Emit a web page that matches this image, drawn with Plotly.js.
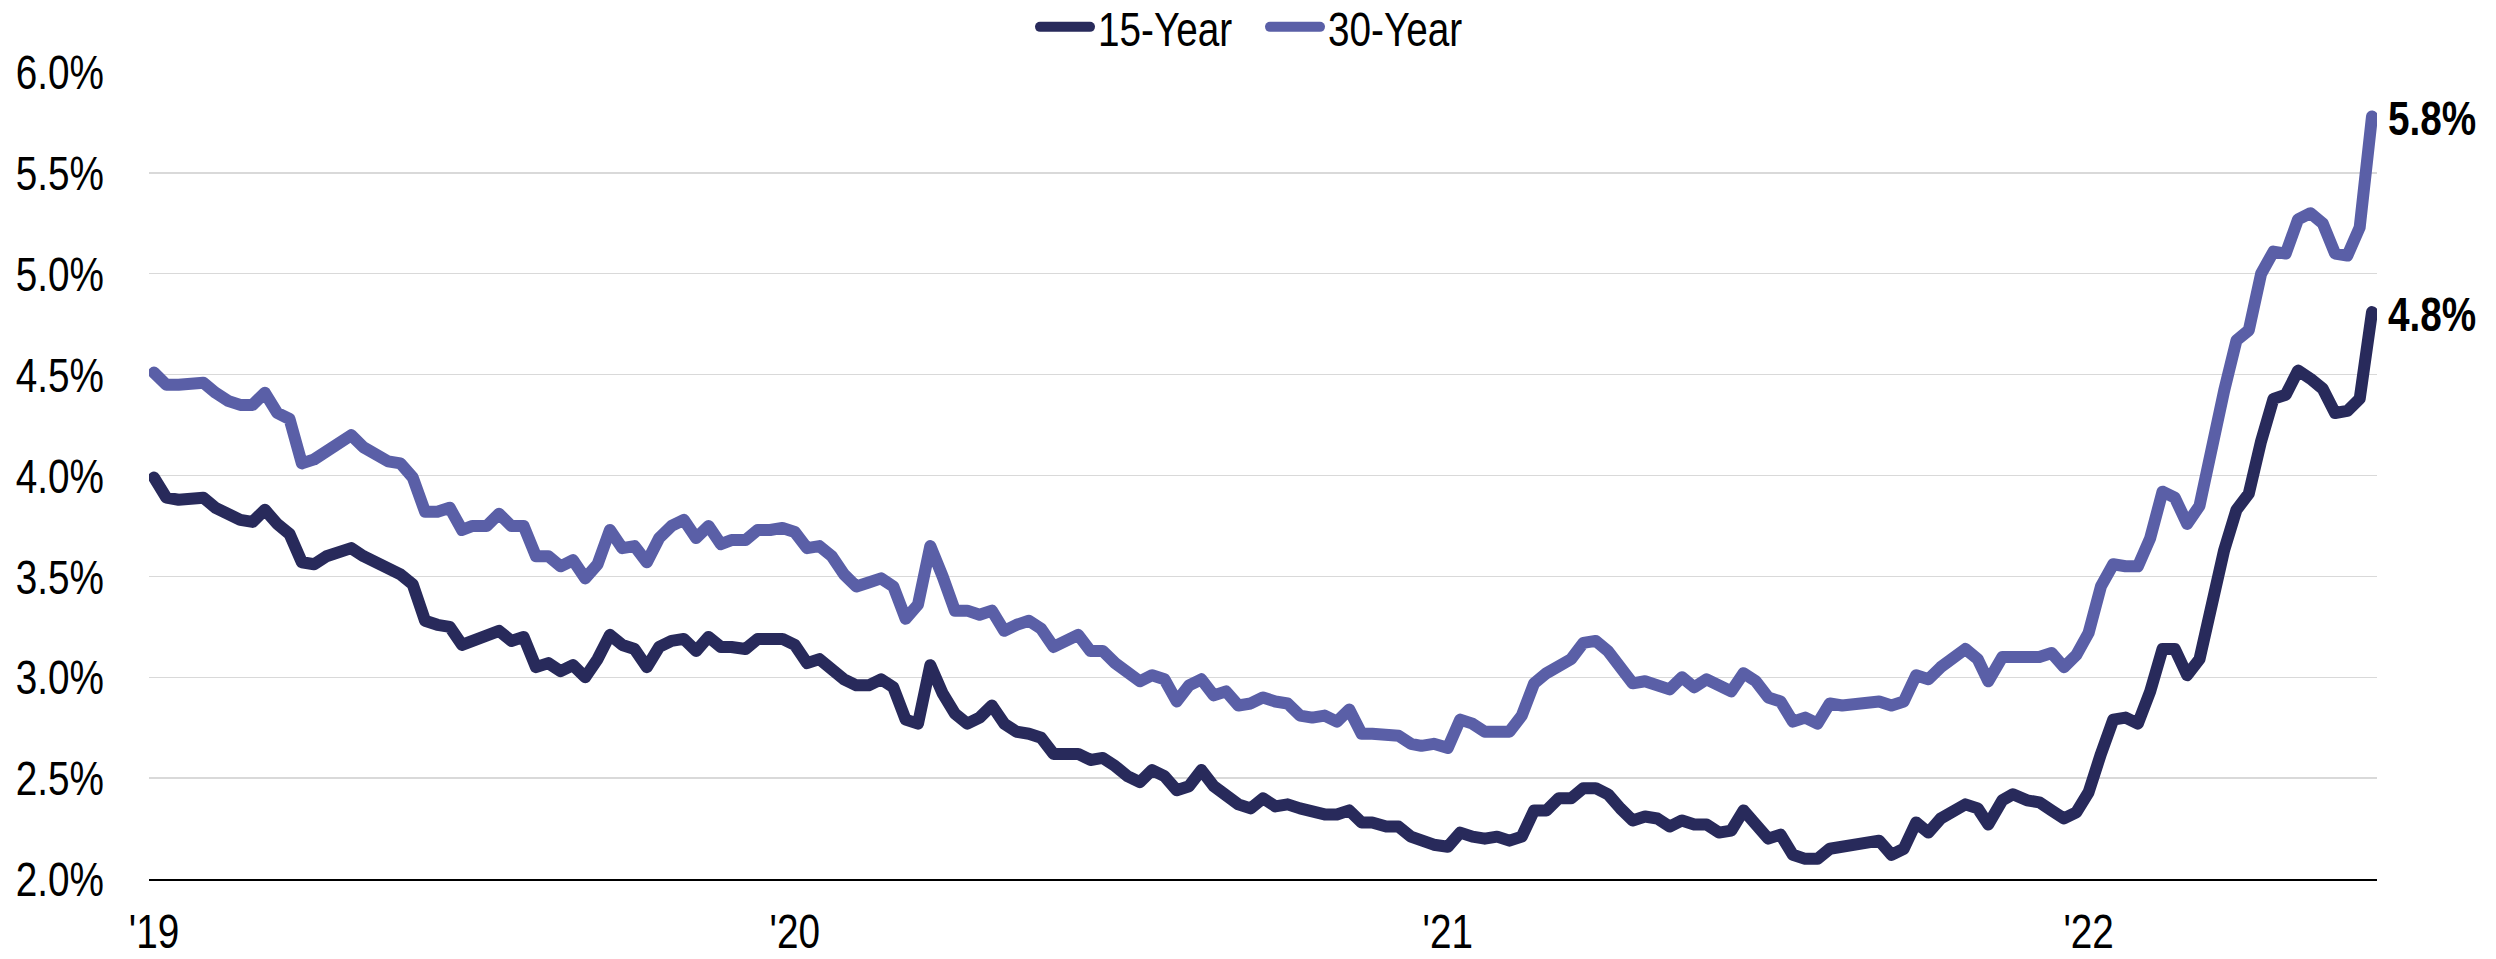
<!DOCTYPE html>
<html>
<head>
<meta charset="utf-8">
<script src="https://cdn.plot.ly/plotly-3.0.1.min.js"></script>
<style>
  html, body { margin: 0; padding: 0; background: #ffffff; }
  #chart { width: 2496px; height: 959px; }
  #chart .scatterlayer .js-line { stroke-linecap: round !important; stroke-linejoin: round !important; }
</style>
</head>
<body>
<div id="chart"></div>
<script>
// Weekly dates (Freddie Mac PMMS survey weeks)
const dates2019 = ["2019-01-03","2019-01-10","2019-01-17","2019-01-24","2019-01-31","2019-02-07","2019-02-14","2019-02-21","2019-02-28","2019-03-07","2019-03-14","2019-03-21","2019-03-28","2019-04-04","2019-04-11","2019-04-18","2019-04-25","2019-05-02","2019-05-09","2019-05-16","2019-05-23","2019-05-30","2019-06-06","2019-06-13","2019-06-20","2019-06-27","2019-07-03","2019-07-11","2019-07-18","2019-07-25","2019-08-01","2019-08-08","2019-08-15","2019-08-22","2019-08-29","2019-09-05","2019-09-12","2019-09-19","2019-09-26","2019-10-03","2019-10-10","2019-10-17","2019-10-24","2019-10-31","2019-11-07","2019-11-14","2019-11-21","2019-11-27","2019-12-05","2019-12-12","2019-12-19","2019-12-26"];
const dates2020 = ["2020-01-02","2020-01-09","2020-01-16","2020-01-23","2020-01-30","2020-02-06","2020-02-13","2020-02-20","2020-02-27","2020-03-05","2020-03-12","2020-03-19","2020-03-26","2020-04-02","2020-04-09","2020-04-16","2020-04-23","2020-04-30","2020-05-07","2020-05-14","2020-05-21","2020-05-28","2020-06-04","2020-06-11","2020-06-18","2020-06-25","2020-07-02","2020-07-09","2020-07-16","2020-07-23","2020-07-30","2020-08-06","2020-08-13","2020-08-20","2020-08-27","2020-09-03","2020-09-10","2020-09-17","2020-09-24","2020-10-01","2020-10-08","2020-10-15","2020-10-22","2020-10-29","2020-11-05","2020-11-12","2020-11-19","2020-11-25","2020-12-03","2020-12-10","2020-12-17","2020-12-23","2020-12-30"];
const dates2021 = ["2021-01-07","2021-01-14","2021-01-21","2021-01-28","2021-02-04","2021-02-11","2021-02-18","2021-02-25","2021-03-04","2021-03-11","2021-03-18","2021-03-25","2021-04-01","2021-04-08","2021-04-15","2021-04-22","2021-04-29","2021-05-06","2021-05-13","2021-05-20","2021-05-27","2021-06-03","2021-06-10","2021-06-17","2021-06-24","2021-07-01","2021-07-08","2021-07-15","2021-07-22","2021-07-29","2021-08-05","2021-08-12","2021-08-19","2021-08-26","2021-09-02","2021-09-09","2021-09-16","2021-09-23","2021-09-30","2021-10-07","2021-10-14","2021-10-21","2021-10-28","2021-11-04","2021-11-10","2021-11-18","2021-11-24","2021-12-02","2021-12-09","2021-12-16","2021-12-23","2021-12-30"];
const dates2022 = ["2022-01-06","2022-01-13","2022-01-20","2022-01-27","2022-02-03","2022-02-10","2022-02-17","2022-02-24","2022-03-03","2022-03-10","2022-03-17","2022-03-24","2022-03-31","2022-04-07","2022-04-14","2022-04-21","2022-04-28","2022-05-05","2022-05-12","2022-05-19","2022-05-26","2022-06-02","2022-06-09","2022-06-16"];

// 30-Year fixed rate (%)
const rate30_2019 = [4.51,4.45,4.45,4.45,4.46,4.41,4.37,4.35,4.35,4.41,4.31,4.28,4.06,4.08,4.12,4.17,4.20,4.14,4.10,4.07,4.06,3.99,3.82,3.82,3.84,3.73,3.75,3.75,3.81,3.75,3.75,3.60,3.60,3.55,3.58,3.49,3.56,3.73,3.64,3.65,3.57,3.69,3.75,3.78,3.69,3.75,3.66,3.68,3.68,3.73,3.73,3.74];
const rate30_2020 = [3.72,3.64,3.65,3.60,3.51,3.45,3.47,3.49,3.45,3.29,3.36,3.65,3.50,3.33,3.33,3.31,3.33,3.23,3.26,3.28,3.24,3.15,3.18,3.21,3.13,3.13,3.07,3.03,2.98,3.01,2.99,2.88,2.96,2.99,2.91,2.93,2.86,2.87,2.90,2.88,2.87,2.81,2.80,2.81,2.78,2.84,2.72,2.72,2.71,2.71,2.67,2.66,2.67];
const rate30_2021 = [2.65,2.79,2.77,2.73,2.73,2.73,2.81,2.97,3.02,3.05,3.09,3.17,3.18,3.13,3.04,2.97,2.98,2.96,2.94,3.00,2.95,2.99,2.96,2.93,3.02,2.98,2.90,2.88,2.78,2.80,2.77,2.87,2.86,2.87,2.87,2.88,2.86,2.88,3.01,2.99,3.05,3.09,3.14,3.09,2.98,3.10,3.10,3.11,3.10,3.12,3.05,3.11];
const rate30_2022 = [3.22,3.45,3.56,3.55,3.55,3.69,3.92,3.89,3.76,3.85,4.16,4.42,4.67,4.72,5.00,5.11,5.10,5.27,5.30,5.25,5.10,5.09,5.23,5.78];

// 15-Year fixed rate (%)
const rate15_2019 = [3.99,3.89,3.88,3.88,3.89,3.84,3.81,3.78,3.77,3.83,3.76,3.71,3.57,3.56,3.60,3.62,3.64,3.60,3.57,3.53,3.51,3.46,3.28,3.26,3.25,3.16,3.18,3.22,3.23,3.18,3.20,3.05,3.07,3.03,3.06,3.00,3.09,3.21,3.16,3.14,3.05,3.15,3.18,3.19,3.13,3.20,3.15,3.15,3.14,3.19,3.19,3.19];
const rate15_2020 = [3.16,3.07,3.09,3.04,2.99,2.96,2.96,2.99,2.95,2.79,2.77,3.06,2.92,2.82,2.77,2.80,2.86,2.77,2.73,2.72,2.70,2.62,2.62,2.62,2.59,2.60,2.56,2.51,2.48,2.54,2.51,2.44,2.46,2.54,2.46,2.42,2.37,2.35,2.40,2.36,2.37,2.35,2.33,2.32,2.32,2.34,2.28,2.28,2.26,2.26,2.21,2.19,2.17];
const rate15_2021 = [2.16,2.23,2.21,2.20,2.21,2.19,2.21,2.34,2.34,2.40,2.40,2.45,2.45,2.42,2.35,2.29,2.31,2.30,2.26,2.29,2.27,2.27,2.23,2.24,2.34,2.26,2.20,2.22,2.12,2.10,2.10,2.15,2.16,2.17,2.18,2.19,2.12,2.15,2.28,2.23,2.30,2.33,2.37,2.35,2.27,2.39,2.42,2.39,2.38,2.34,2.30,2.33];
const rate15_2022 = [2.43,2.62,2.79,2.80,2.77,2.93,3.14,3.14,3.01,3.09,3.39,3.63,3.83,3.91,4.17,4.38,4.40,4.52,4.48,4.43,4.31,4.32,4.38,4.81];

const seriesNames = ["15-Year", "30-Year"];
const yearTickText = ["'19", "'20", "'21", "'22"];

const dates = [].concat(dates2019, dates2020, dates2021, dates2022);
const rate15 = [].concat(rate15_2019, rate15_2020, rate15_2021, rate15_2022);
const rate30 = [].concat(rate30_2019, rate30_2020, rate30_2021, rate30_2022);
const yearTickVals = [dates2019[0], dates2020[0], dates2021[0], dates2022[0]];

const FONT = "'Liberation Sans Narrow', 'Arial Narrow', 'Liberation Sans', Arial, sans-serif";
const FS = 49;
const NARROW = 0.79;   // horizontal squeeze to mimic a narrow sans face
const C15 = "#282a5b";
const C30 = "#5a5fa7";

const traces = [
  { x: dates, y: rate15, name: seriesNames[0], type: "scatter", mode: "lines",
    line: { color: C15, width: 12, shape: "linear" }, hoverinfo: "skip" },
  { x: dates, y: rate30, name: seriesNames[1], type: "scatter", mode: "lines",
    line: { color: C30, width: 12, shape: "linear" }, hoverinfo: "skip" }
];

const lastIdx = dates.length - 1;
const annotations = [
  { x: dates[lastIdx], y: rate30[lastIdx], text: "<b>" + rate30[lastIdx].toFixed(1) + "%</b>" },
  { x: dates[lastIdx], y: rate15[lastIdx], text: "<b>" + rate15[lastIdx].toFixed(1) + "%</b>" }
].map(a => Object.assign(a, {
  xref: "x", yref: "y", showarrow: false, xanchor: "left", yanchor: "middle", align: "left",
  xshift: 14, yshift: -2, font: { family: FONT, size: FS, color: "#000000" }
}));

const layout = {
  width: 2496, height: 959,
  margin: { l: 149, r: 119, t: 72, b: 80, pad: 0 },
  paper_bgcolor: "#ffffff", plot_bgcolor: "#ffffff",
  font: { family: FONT, size: FS, color: "#000000" },
  showlegend: true,
  legend: {
    orientation: "h", xref: "container", yref: "container",
    x: 0.5 + 10/2496, xanchor: "center", y: 1 - 27/959, yanchor: "middle",
    font: { family: FONT, size: FS, color: "#000000" },
    itemwidth: 60, entrywidth: 155, entrywidthmode: "pixels",
    tracegroupgap: 0, bgcolor: "rgba(0,0,0,0)"
  },
  xaxis: {
    type: "date",
    range: ["2018-12-31 04:00", "2022-06-18 20:00"],
    tickmode: "array", tickvals: yearTickVals, ticktext: yearTickText,
    showgrid: false, zeroline: false,
    showline: true, linecolor: "#000000", linewidth: 2,
    ticks: "", ticklabelstandoff: 8,
    tickfont: { family: FONT, size: FS, color: "#000000" },
    fixedrange: true
  },
  yaxis: {
    range: [2, 6], dtick: 0.5, tick0: 2,
    tickformat: ".1f", ticksuffix: "%",
    showgrid: true, gridcolor: "#d9d9d9", gridwidth: 1.4,
    zeroline: false, showline: false, ticks: "",
    ticklabelstandoff: 44,
    tickfont: { family: FONT, size: FS, color: "#000000" },
    fixedrange: true
  },
  annotations: annotations
};

// Squeeze texts horizontally around their anchor x so the face reads like a narrow sans.
function condenseTexts(gd) {
  gd.querySelectorAll(".xtick text, .ytick text, .legendtext, .annotation-text").forEach(t => {
    if (t.getAttribute("data-condensed")) return;
    const ax = parseFloat(t.getAttribute("x")) || 0;
    const prev = t.getAttribute("transform") || "";
    t.setAttribute("transform", prev + " translate(" + ax + ",0) scale(" + NARROW + ",1) translate(" + (-ax) + ",0)");
    t.setAttribute("data-condensed", "1");
  });
}

// Legend swatches: a 60px rounded bar ending just before the label.
function styleLegendSwatches(gd) {
  gd.querySelectorAll(".legend .traces").forEach(item => {
    const txt = item.querySelector(".legendtext");
    const path = item.querySelector(".legendlines path");
    if (!txt || !path) return;
    const tx = parseFloat(txt.getAttribute("x")) || 0;
    path.setAttribute("d", "M" + (tx - 58) + ",0L" + (tx - 8) + ",0");
    path.style.strokeWidth = "10px";
    path.style.strokeLinecap = "round";
  });
}

Plotly.newPlot("chart", traces, layout, { staticPlot: true, displayModeBar: false })
  .then(gd => { condenseTexts(gd); styleLegendSwatches(gd); });
</script>
</body>
</html>
